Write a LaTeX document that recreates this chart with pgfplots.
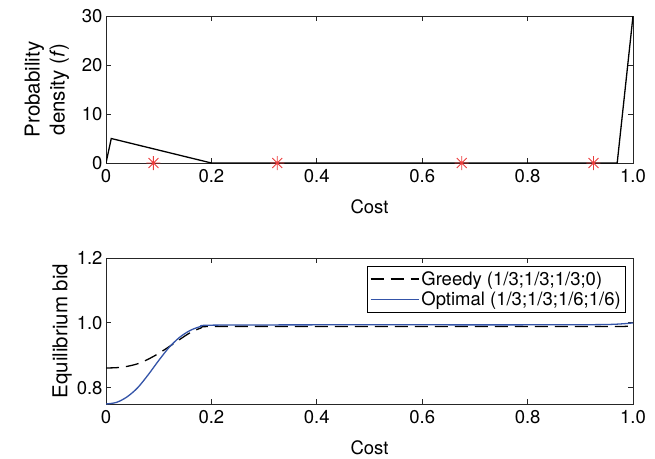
\documentclass[border=0pt]{standalone}
\usepackage{pgfplots}
\pgfplotsset{compat=1.18}
\usepackage{fontspec}
\setmainfont{TeX Gyre Heros}
\definecolor{optblue}{RGB}{52,84,168}
\definecolor{starred}{RGB}{236,60,60}
\newcommand{\tickf}{\fontsize{18.5}{22}\selectfont}
\newcommand{\labf}{\fontsize{20.5}{25}\selectfont}
\pgfdeclareplotmark{mstar}{%
  \pgfpathmoveto{\pgfqpoint{-\pgfplotmarksize}{0pt}}\pgfpathlineto{\pgfqpoint{\pgfplotmarksize}{0pt}}%
  \pgfpathmoveto{\pgfqpoint{0pt}{-\pgfplotmarksize}}\pgfpathlineto{\pgfqpoint{0pt}{\pgfplotmarksize}}%
  \pgfpathmoveto{\pgfqpoint{-0.707\pgfplotmarksize}{-0.707\pgfplotmarksize}}\pgfpathlineto{\pgfqpoint{0.707\pgfplotmarksize}{0.707\pgfplotmarksize}}%
  \pgfpathmoveto{\pgfqpoint{-0.707\pgfplotmarksize}{0.707\pgfplotmarksize}}\pgfpathlineto{\pgfqpoint{0.707\pgfplotmarksize}{-0.707\pgfplotmarksize}}%
  \pgfusepathqstroke}
\pgfplotstableread{
x y
0 0
0.01 5
0.2 0
0.97 0
1.0 30
}\densitytab
\pgfplotstableread{
x y
0.09 0
0.325 0
0.675 0
0.925 0
}\startab
\pgfplotstableread{
x y
0.00 0.861
0.02 0.862
0.04 0.866
0.06 0.874
0.08 0.888
0.10 0.906
0.12 0.927
0.14 0.949
0.16 0.970
0.18 0.984
0.20 0.989
0.40 0.989
0.60 0.989
0.80 0.989
0.98 0.989
1.00 0.995
}\greedytab
\pgfplotstableread{
x y
0.00 0.750
0.02 0.755
0.04 0.772
0.06 0.800
0.08 0.840
0.10 0.884
0.12 0.925
0.14 0.956
0.16 0.977
0.18 0.989
0.20 0.993
0.40 0.994
0.60 0.994
0.80 0.994
0.95 0.995
1.00 1.000
}\optimaltab
\begin{document}
\begin{tikzpicture}[x=1pt,y=1pt]
\path (0,0) rectangle (655,457);
\pgfplotsset{
  every axis/.append style={
    font=\tickf,
    scale only axis,
    axis line style={line width=0.8pt, black!85},
    tick style={line width=0.8pt, black!85},
    tick align=inside,
    major tick length=5pt,
    xmin=0, xmax=1,
    xtick={0,0.2,0.4,0.6,0.8,1.0},
    xticklabels={0,0.2,0.4,0.6,0.8,1.0},
    /pgf/number format/assume math mode=true,
    tick label style={font=\tickf},
    xticklabel style={yshift=-3pt},
    xlabel style={font=\tickf},
    ylabel style={font=\labf},
    xlabel={Cost},
    xlabel style={yshift=-10pt},
    ylabel style={align=center},
  }
}
\begin{axis}[
  at={(106pt,294pt)}, anchor=south west,
  width=527pt, height=147pt,
  ymin=0, ymax=30,
  ytick={0,10,20,30},
  ylabel={Probability\\density (\textit{f})},
  ylabel style={yshift=6pt},
]
\addplot[black, line width=1.3pt] table[x=x,y=y] {\densitytab};
\addplot[only marks, mark=mstar, mark size=7pt, starred, mark options={line width=0.9pt}] table[x=x,y=y] {\startab};
\end{axis}
\begin{axis}[
  at={(106pt,53pt)}, anchor=south west,
  width=527pt, height=146pt,
  ymin=0.75, ymax=1.2,
  ytick={0.8,1.0,1.2},
  yticklabels={0.8,1.0,1.2},
  ylabel={Equilibrium bid},
  ylabel style={yshift=-2pt},
  legend style={at={(0.987,0.945)}, anchor=north east, draw=black, line width=0.8pt, inner sep=3pt, row sep=1pt, font=\tickf},
  legend cell align=left,
  legend image code/.code={\draw[#1] (0pt,0pt) -- (48pt,0pt);},
]
\addplot[black, line width=1.3pt, dash pattern=on 13pt off 7pt, smooth] table[x=x,y=y] {\greedytab};
\addlegendentry{Greedy (1/3;1/3;1/3;0)}
\addplot[optblue, line width=1.3pt, smooth] table[x=x,y=y] {\optimaltab};
\addlegendentry{Optimal (1/3;1/3;1/6;1/6)}
\end{axis}
\end{tikzpicture}
\end{document}
